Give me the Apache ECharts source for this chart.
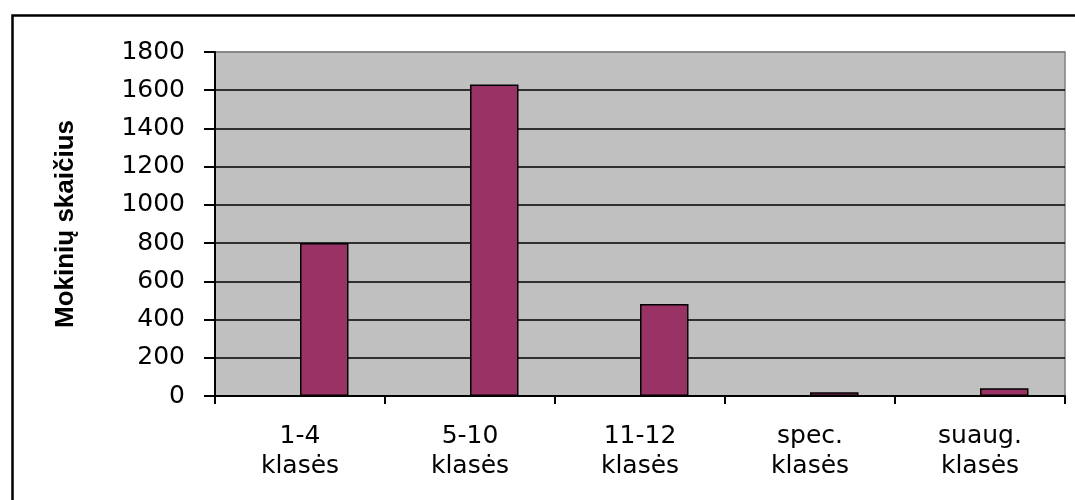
<!DOCTYPE html>
<html>
<head>
<meta charset="utf-8">
<script src="https://cdn.jsdelivr.net/npm/echarts@6/dist/echarts.min.js"></script>
<style>
html,body{margin:0;padding:0;background:#fff;}
#c{width:1075px;height:500px;}
</style>
</head>
<body>
<div id="c"></div>
<script>
const categories = ['1-4\nklasės', '5-10\nklasės', '11-12\nklasės', 'spec.\nklasės', 'suaug.\nklasės'];
const emptySeries = [null, null, null, null, null];
const studentCounts = [800, 1630, 482, 20, 40];
const yTicks = { min: 0, max: 1800, interval: 200 };
const yTitle = 'Mokinių skaičius';

const chart = echarts.init(document.getElementById('c'), null, { renderer: 'canvas' });
const gridColors = ['#000','#000','#000','#000','#000','#000','#000','#000','#000','#808080'];
chart.setOption({
  animation: false,
  backgroundColor: '#ffffff',
  graphic: [{
    type: 'rect',
    left: 10, top: 13,
    shape: { x: 0, y: 0, width: 1100, height: 600 },
    style: { fill: 'none', stroke: '#000', lineWidth: 2.5 },
    z: 0
  }],
  grid: {
    left: 215, right: 10, top: 52, bottom: 104,
    show: true,
    backgroundColor: '#c0c0c0',
    borderColor: '#808080',
    borderWidth: 1.5
  },
  xAxis: {
    type: 'category',
    data: categories,
    axisLine: { show: true, lineStyle: { color: '#000', width: 2 } },
    axisTick: { show: true, length: 8, alignWithLabel: false, lineStyle: { color: '#000', width: 2 } },
    axisLabel: {
      margin: 25,
      fontFamily: 'DejaVu Sans',
      fontSize: 25,
      color: '#000',
      lineHeight: 30,
      interval: 0
    },
    splitLine: { show: false }
  },
  yAxis: {
    type: 'value',
    min: yTicks.min, max: yTicks.max, interval: yTicks.interval,
    name: yTitle,
    nameLocation: 'middle',
    nameGap: 136,
    nameRotate: 90,
    nameTextStyle: { fontFamily: 'Liberation Sans', fontWeight: 'bold', fontSize: 26, color: '#000' },
    axisLine: { show: true, lineStyle: { color: '#000', width: 2 } },
    axisTick: { show: true, length: 11, lineStyle: { color: '#000', width: 2 } },
    axisLabel: {
      margin: 30,
      fontFamily: 'DejaVu Sans',
      fontSize: 25,
      color: '#000',
      formatter: function (v) { return String(v); }
    },
    splitLine: { show: true, lineStyle: { color: gridColors, width: 1.5 } }
  },
  series: [
    {
      type: 'bar',
      name: 'tuščia',
      data: emptySeries,
      barWidth: 48.5,
      barGap: '0%'
    },
    {
      type: 'bar',
      name: 'Mokiniai',
      data: studentCounts,
      barWidth: 48.5,
      barGap: '0%',
      itemStyle: { color: '#993366', borderColor: '#000', borderWidth: 1.5 }
    }
  ]
});
</script>
</body>
</html>
